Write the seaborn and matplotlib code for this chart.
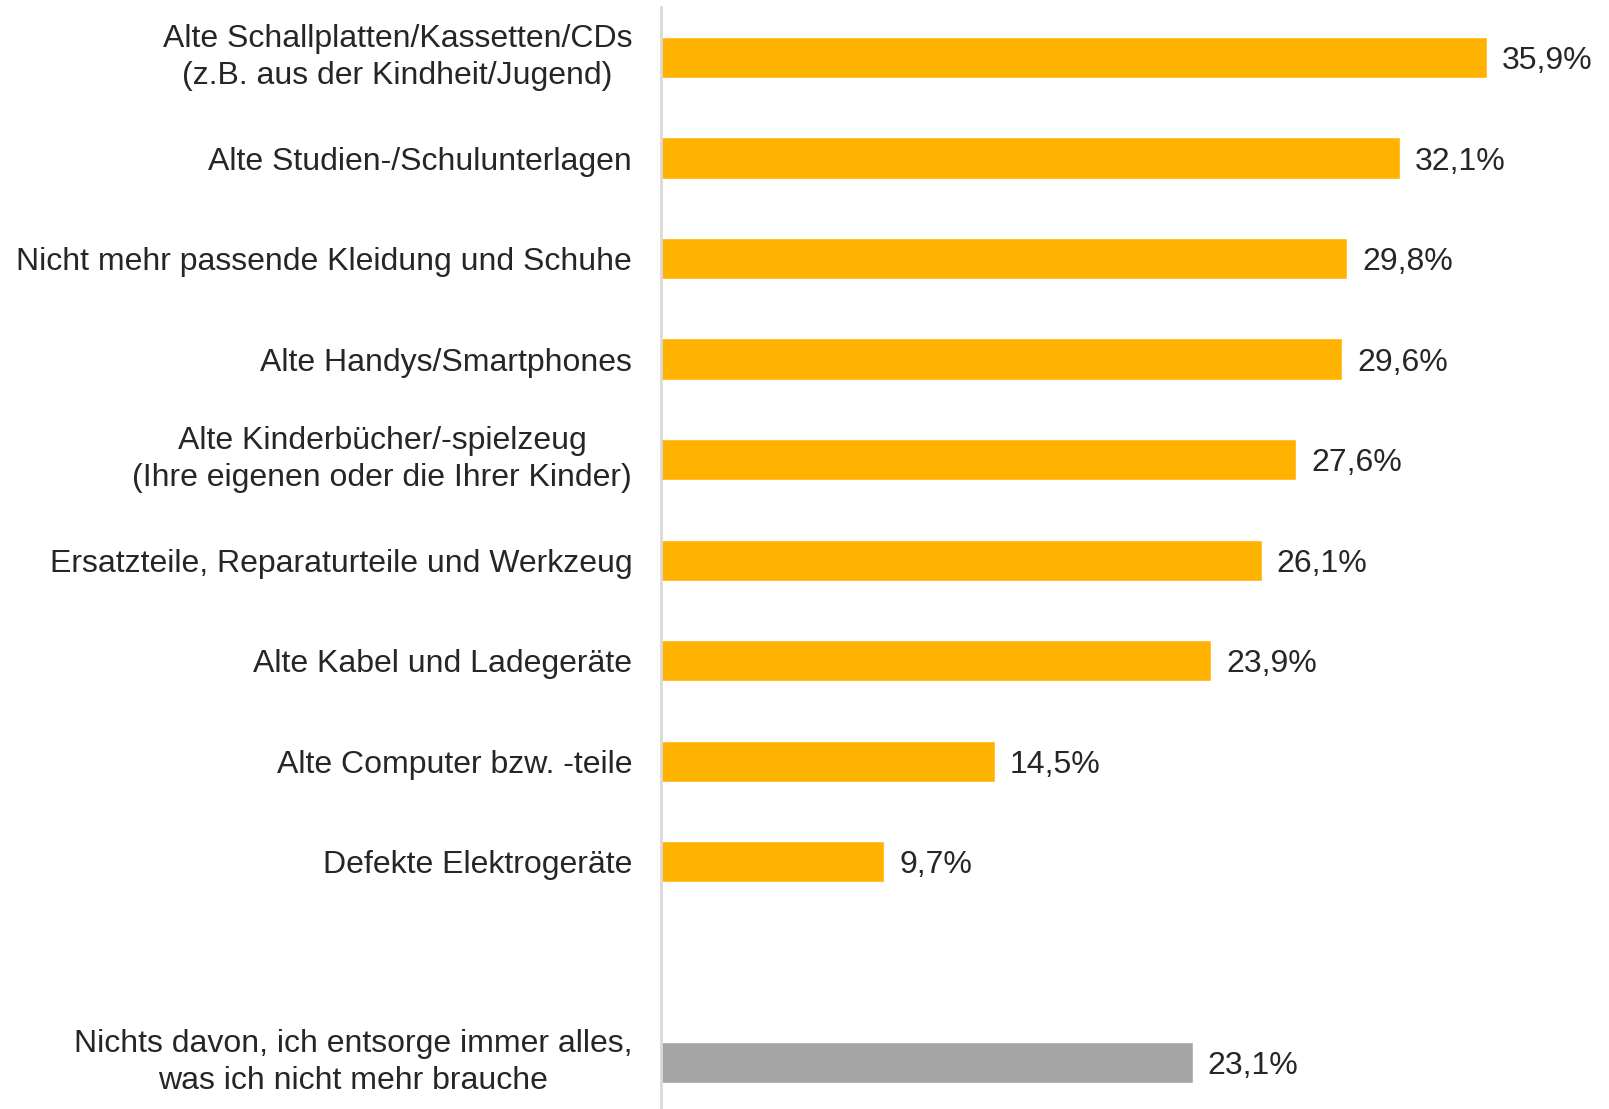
import matplotlib.pyplot as plt
import pandas as pd
import seaborn as sns

categories = [
    "Alte Schallplatten/Kassetten/CDs\n(z.B. aus der Kindheit/Jugend)",
    "Alte Studien-/Schulunterlagen",
    "Nicht mehr passende Kleidung und Schuhe",
    "Alte Handys/Smartphones",
    "Alte Kinderbücher/-spielzeug\n(Ihre eigenen oder die Ihrer Kinder)",
    "Ersatzteile, Reparaturteile und Werkzeug",
    "Alte Kabel und Ladegeräte",
    "Alte Computer bzw. -teile",
    "Defekte Elektrogeräte",
    "Nichts davon, ich entsorge immer alles,\nwas ich nicht mehr brauche",
]
values = [35.9, 32.1, 29.8, 29.6, 27.6, 26.1, 23.9, 14.5, 9.7, 23.1]
groups = ["item"] * 9 + ["none"]

# leere Zeile zwischen den Items und "Nichts davon"
order = categories[:9] + [" "] + categories[9:]

df = pd.DataFrame({"label": categories, "value": values, "group": groups})

sns.set_style("white")
plt.rcParams['font.family'] = ['Liberation Sans', 'DejaVu Sans']

fig = plt.figure(figsize=(16.09, 11.09), dpi=100)
ax = fig.add_axes([0.411, 0.0, 0.586, 0.9935])

sns.barplot(data=df, y="label", x="value", hue="group", order=order,
            palette={"item": "#FFB300", "none": "#A5A5A5"},
            width=0.41, legend=False, orient="h", ax=ax, saturation=1)

for cont in ax.containers:
    texts = ax.bar_label(cont, fmt=lambda v: f"{v:.1f}%".replace(".", ","),
                         padding=11, fontsize=23, color="#262626")
    for t in texts:
        t.set_va("center_baseline")

ax.set_xlim(0, 41)
ax.set_ylim(10.46, -0.5)
ax.set_xlabel("")
ax.set_ylabel("")
ax.set_xticks([])
ax.tick_params(axis="y", length=0, pad=21, labelsize=23, labelcolor="#262626")
for lbl in ax.get_yticklabels():
    lbl.set_multialignment("center")
    lbl.set_linespacing(1.31)
    if "\n" in lbl.get_text():
        lbl.set_va("center")

for side in ["top", "right", "bottom"]:
    ax.spines[side].set_visible(False)
ax.spines["left"].set_color("#D9D9D9")
ax.spines["left"].set_linewidth(2)

plt.savefig("out.png", dpi=100)
plt.close()
